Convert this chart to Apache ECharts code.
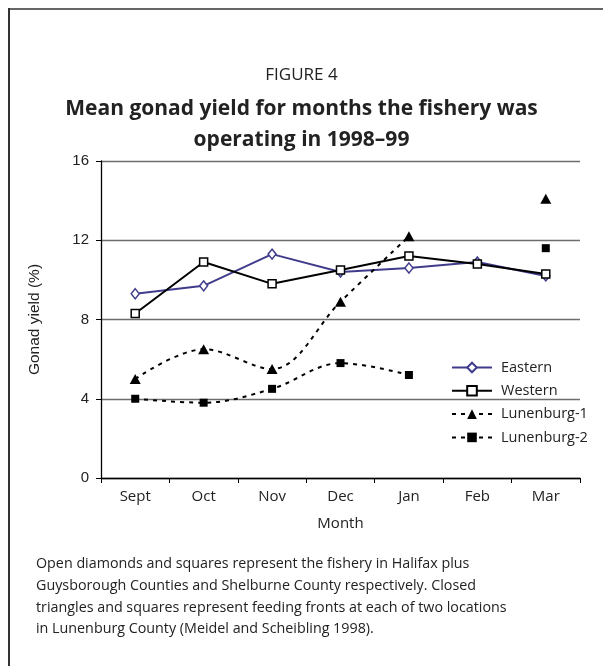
<!DOCTYPE html>
<html>
<head>
<meta charset="utf-8">
<script src="https://cdn.jsdelivr.net/npm/echarts@6/dist/echarts.min.js"></script>
<style>
  html, body { margin: 0; padding: 0; background: #fff; }
  #chart { width: 603px; height: 666px; }
</style>
</head>
<body>
<div id="chart"></div>
<script>
// Months of the 1998–99 fishing season
const months = ['Sept', 'Oct', 'Nov', 'Dec', 'Jan', 'Feb', 'Mar'];

// Mean gonad yield (%) per area
const eastern = [9.3, 9.7, 11.3, 10.4, 10.6, 10.9, 10.2];
const western = [8.3, 10.9, 9.8, 10.5, 11.2, 10.8, 10.3];
const lunenburg1 = [5.0, 6.5, 5.5, 8.9, 12.2, null, 14.1];
const lunenburg2 = [4.0, 3.8, 4.5, 5.8, 5.2, null, 11.6];

const yTicks = [0, 4, 8, 12, 16];

const FONT = '"Open Sans", "Noto Sans", sans-serif';
const ARIAL = '"Liberation Sans", Arial, sans-serif';
const chart = echarts.init(document.getElementById('chart'), null, { renderer: 'canvas' });

const caption = 'Open diamonds and squares represent the fishery in Halifax plus\n' +
  'Guysborough Counties and Shelburne County respectively. Closed\n' +
  'triangles and squares represent feeding fronts at each of two locations\n' +
  'in Lunenburg County (Meidel and Scheibling 1998).';

chart.setOption({
  animation: false,
  backgroundColor: '#fff',
  textStyle: { fontFamily: FONT },
  graphic: [
    { type: 'line', shape: { x1: 9, y1: 9, x2: 603, y2: 9 }, style: { stroke: '#666', lineWidth: 2 } },
    { type: 'line', shape: { x1: 9, y1: 8, x2: 9, y2: 666 }, style: { stroke: '#333', lineWidth: 2 } },
    {
      type: 'text', x: 301.5, y: 75,
      style: { text: 'FIGURE 4', fontFamily: FONT, fontSize: 17, fill: '#222', align: 'center', verticalAlign: 'middle' }
    },
    {
      type: 'text', x: 301.5, y: 109,
      style: { text: 'Mean gonad yield for months the fishery was', fontFamily: FONT, fontSize: 21, fontWeight: 'bold', fill: '#222', align: 'center', verticalAlign: 'middle' }
    },
    {
      type: 'text', x: 301.5, y: 140,
      style: { text: 'operating in 1998–99', fontFamily: FONT, fontSize: 21, fontWeight: 'bold', fill: '#222', align: 'center', verticalAlign: 'middle' }
    },
    {
      type: 'text', left: 36, top: 553,
      style: { text: caption, fontFamily: FONT, fontSize: 14.3, lineHeight: 21.8, fill: '#222' }
    }
  ],
  legend: {
    orient: 'vertical',
    left: 446, top: 355,
    itemWidth: 40, itemHeight: 12, itemGap: 8.3,
    textStyle: { fontFamily: FONT, fontSize: 14.5, color: '#222', padding: [0, 0, 0, 4] },
    data: ['Eastern', 'Western', 'Lunenburg-1', 'Lunenburg-2']
  },
  grid: { left: 101, right: 23, top: 161, bottom: 188 },
  xAxis: {
    type: 'category',
    data: months,
    boundaryGap: true,
    name: 'Month', nameLocation: 'middle', nameGap: 38,
    nameTextStyle: { fontFamily: FONT, fontSize: 15, color: '#222' },
    axisLine: { lineStyle: { color: '#000', width: 1.3 } },
    axisTick: { show: true, length: 5, lineStyle: { color: '#000' } },
    axisLabel: { fontFamily: FONT, fontSize: 15, color: '#222', margin: 11 }
  },
  yAxis: {
    type: 'value',
    min: yTicks[0], max: yTicks[yTicks.length - 1], interval: 4,
    name: 'Gonad yield (%)', nameLocation: 'middle', nameGap: 58, nameRotate: 90,
    nameTextStyle: { fontFamily: ARIAL, fontSize: 15.5, color: '#222' },
    axisLine: { show: true, lineStyle: { color: '#000', width: 1.3 } },
    axisTick: { show: true, length: 5, lineStyle: { color: '#000' } },
    axisLabel: { fontFamily: ARIAL, fontSize: 15, color: '#222', margin: 12 },
    splitLine: { show: true, lineStyle: { color: '#6e6e6e', width: 1.3 } }
  },
  series: [
    {
      name: 'Eastern', type: 'line', data: eastern,
      symbol: 'diamond', symbolSize: [8, 10], showAllSymbol: true,
      lineStyle: { color: '#403c8c', width: 2 },
      itemStyle: { color: '#fff', borderColor: '#403c8c', borderWidth: 1.5 },
      z: 3
    },
    {
      name: 'Western', type: 'line', data: western,
      symbol: 'rect', symbolSize: 8, showAllSymbol: true,
      lineStyle: { color: '#000', width: 2 },
      itemStyle: { color: '#fff', borderColor: '#000', borderWidth: 1.5 },
      z: 4
    },
    {
      name: 'Lunenburg-1', type: 'line', data: lunenburg1,
      smooth: 0.35, connectNulls: false,
      symbol: 'triangle', symbolSize: [11, 10], showAllSymbol: true,
      lineStyle: { color: '#000', width: 2, type: [4, 5] },
      itemStyle: { color: '#000' },
      z: 5
    },
    {
      name: 'Lunenburg-2', type: 'line', data: lunenburg2,
      smooth: 0.35, connectNulls: false,
      symbol: 'rect', symbolSize: 8, showAllSymbol: true,
      lineStyle: { color: '#000', width: 2, type: [4, 5] },
      itemStyle: { color: '#000' },
      z: 5
    }
  ]
});
</script>
</body>
</html>
